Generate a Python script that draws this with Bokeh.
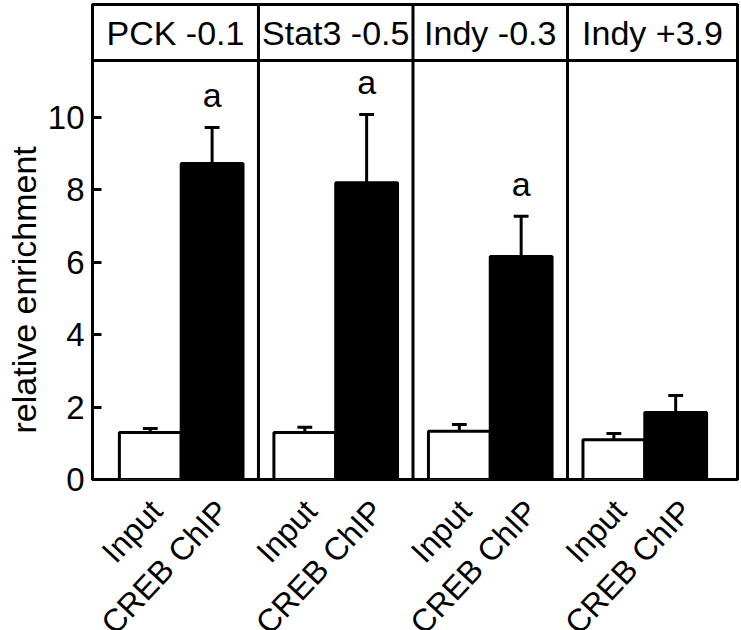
import math
from bokeh.plotting import figure
from bokeh.layouts import column
from bokeh.models import FixedTicker, Span, Range1d, Title
from bokeh.core.properties import value
from bokeh.embed import file_html
from bokeh.resources import INLINE

# ---- data ----
panels = ["PCK -0.1", "Stat3 -0.5", "Indy -0.3", "Indy +3.9"]
conditions = ["Input", "CREB ChIP"]
input_mean = [1.30, 1.30, 1.33, 1.10]
input_err = [0.11, 0.14, 0.19, 0.17]
chip_mean = [8.73, 8.20, 6.16, 1.85]
chip_err = [0.99, 1.88, 1.11, 0.47]
sig = ["a", "a", "a", ""]
y_ticks = [0, 2, 4, 6, 8, 10]

FONT = "Liberation Sans"
GROUP = 5          # spacing between panels, in half-bar units
HEADER_LINE = 11.57
Y_TOP = 13.12
X0, X1 = -2.87, 18.0
MAIN_H = 492       # main chart height (px)
LABEL_H = 138      # height of the rotated-label strip (px)

x_range = Range1d(X0, X1)

p = figure(width=741, height=MAIN_H, output_backend="svg",
           toolbar_location=None, x_range=x_range, y_range=Range1d(0, Y_TOP),
           min_border_left=92, min_border_right=4, min_border_top=4,
           min_border_bottom=13)
p.grid.visible = False
p.background_fill_color = "white"
p.border_fill_color = "white"
p.outline_line_color = "black"
p.outline_line_width = 3

xi = [GROUP * i - 1 for i in range(len(panels))]
xc = [GROUP * i + 1 for i in range(len(panels))]
bounds = [X0] + [GROUP * i + GROUP / 2 for i in range(len(panels) - 1)] + [X1]
xh = [(bounds[i] + bounds[i + 1]) / 2 for i in range(len(panels))]

# bars
p.vbar(x=xi, top=input_mean, width=2, bottom=0, fill_color="white",
       line_color="black", line_width=3)
p.vbar(x=xc, top=chip_mean, width=2, bottom=0, fill_color="black",
       line_color="black", line_width=3)

# error bars (upper only)
for xs, m, e in ((xi, input_mean, input_err), (xc, chip_mean, chip_err)):
    tops = [a + b for a, b in zip(m, e)]
    p.segment(x0=xs, y0=m, x1=xs, y1=tops, line_color="black", line_width=3)
    p.segment(x0=[x - 0.24 for x in xs], y0=tops, x1=[x + 0.24 for x in xs],
              y1=tops, line_color="black", line_width=3)

# significance letters
sig_y = [m + e + 0.9 for m, e in zip(chip_mean, chip_err)]
p.text(x=xc, y=sig_y, text=sig, text_font=value(FONT), text_font_size="34px",
       text_align="center", text_baseline="middle", text_color="black")

# header
p.text(x=xh, y=[(HEADER_LINE + Y_TOP) / 2] * len(panels), text=panels,
       text_font=value(FONT), text_font_size="34px", text_align="center",
       text_baseline="middle", text_color="black")
p.add_layout(Span(location=HEADER_LINE, dimension="width", line_color="black",
                  line_width=3))
for b in bounds[1:-1]:
    p.add_layout(Span(location=b, dimension="height", line_color="black",
                      line_width=3))

# y axis
p.yaxis.ticker = FixedTicker(ticks=y_ticks)
p.yaxis.minor_tick_line_color = None
p.yaxis.major_tick_in = 9
p.yaxis.major_tick_out = 0
p.yaxis.major_tick_line_width = 3
p.yaxis.axis_line_width = 3
p.yaxis.axis_line_color = "black"
p.yaxis.major_label_text_font = FONT
p.yaxis.major_label_text_font_size = "33px"
p.yaxis.major_label_text_color = "black"
p.yaxis.major_label_standoff = 8
p.xaxis.visible = False

# y axis title
p.add_layout(Title(text="relative enrichment", align="left", offset=46,
                   text_font=FONT, text_font_size="34px",
                   text_font_style="normal", text_color="black",
                   standoff=4), "left")

# ---- rotated category labels strip (shares the x range) ----
q = figure(width=741, height=LABEL_H, output_backend="svg",
           toolbar_location=None, x_range=x_range,
           y_range=Range1d(-LABEL_H, 0),
           min_border_left=92, min_border_right=4, min_border_top=0,
           min_border_bottom=0)
q.axis.visible = False
q.grid.visible = False
q.outline_line_color = None
q.background_fill_color = "white"
q.border_fill_color = "white"

lx, lt = [], []
for a, b in zip(xi, xc):
    lx += [a - 0.23, b - 0.09]
    lt += [conditions[0], conditions[1]]
q.text(x=lx, y=[-0.5] * len(lx), text=lt, angle=math.radians(47),
       text_align="right", text_baseline="top", text_font=value(FONT),
       text_font_size="32px", text_color="black")

layout = column(p, q, spacing=0)
open("out.html", "w").write(file_html(layout, INLINE))
